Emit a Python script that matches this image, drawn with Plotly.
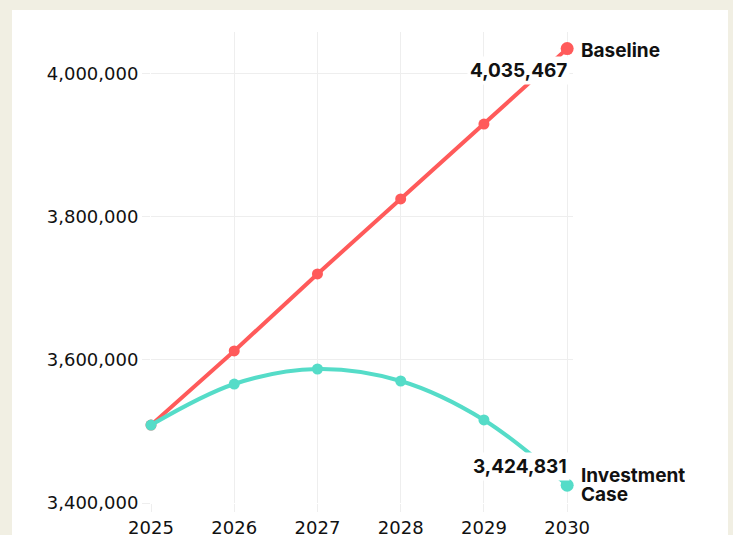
import plotly.graph_objects as go

years = [2025, 2026, 2027, 2028, 2029, 2030]
baseline = [3509000, 3612600, 3720300, 3825200, 3930000, 4035467]
investment = [3509000, 3566400, 3587400, 3570600, 3516100, 3424831]
series_names = ["Baseline", "Investment Case"]
end_labels = ["4,035,467", "3,424,831"]
y_ticks = [3400000, 3600000, 3800000, 4000000]
y_tick_text = ["3,400,000", "3,600,000", "3,800,000", "4,000,000"]

RED = "#ff5a5a"
TEAL = "#55dcc8"
W, H = 733, 535
L, R, T, B = 151, 160, 32, 32

fig = go.Figure()
fig.add_trace(go.Scatter(
    x=years, y=baseline, mode="lines+markers", name=series_names[0],
    line=dict(color=RED, width=4), marker=dict(size=11, color=RED),
    cliponaxis=False, showlegend=False))
fig.add_trace(go.Scatter(
    x=years, y=investment, mode="lines+markers", name=series_names[1],
    line=dict(color=TEAL, width=4, shape="spline", smoothing=1.0),
    marker=dict(size=11, color=TEAL), cliponaxis=False, showlegend=False))
fig.add_trace(go.Scatter(
    x=[years[-1], years[-1]], y=[baseline[-1], investment[-1]], mode="markers",
    marker=dict(size=13, color=[RED, TEAL]), cliponaxis=False, showlegend=False,
    hoverinfo="skip"))

pw = W - L - R
ph = H - T - B
fig.add_shape(type="rect", xref="paper", yref="paper",
              x0=(12 - L) / pw, x1=(728 - L) / pw,
              y0=(H - B - 545) / ph, y1=(H - B - 10) / ph,
              fillcolor="white", line=dict(width=0), layer="below")

# short connector ticks between end markers and series labels
for yv in (baseline[-1], investment[-1]):
    fig.add_shape(type="line", xref="x", yref="y", xsizemode="pixel",
                  xanchor=years[-1], x0=6, x1=11, y0=yv, y1=yv,
                  line=dict(color="#cccccc", width=1))

bold = dict(family="Inter, Roboto, sans-serif", size=19, color="#111111", weight=700)
fig.add_annotation(x=years[-1], y=baseline[-1], text=end_labels[0], showarrow=False,
                   xanchor="right", yanchor="middle", yshift=-22, xshift=3,
                   bgcolor="white", borderpad=2, font=bold)
fig.add_annotation(x=years[-1], y=investment[-1], text=end_labels[1], showarrow=False,
                   xanchor="right", yanchor="middle", yshift=19, xshift=3,
                   bgcolor="white", borderpad=2, font=bold)
fig.add_annotation(x=years[-1], y=baseline[-1], text=series_names[0], showarrow=False,
                   xanchor="left", yanchor="middle", xshift=13, yshift=-2,
                   borderpad=0, font=bold)
inv_lines = series_names[1].split(" ")
for txt, ys in zip(inv_lines, (10, -9)):
    fig.add_annotation(x=years[-1], y=investment[-1], text=txt, showarrow=False,
                       xanchor="left", yanchor="middle", xshift=13, yshift=ys,
                       height=18, borderpad=0, font=bold)

tickfont = dict(family="DejaVu Sans, sans-serif", size=18, color="#111111")
fig.update_layout(
    width=W, height=H, margin=dict(l=L, r=R, t=T, b=B, autoexpand=False),
    paper_bgcolor="#f1efe3", plot_bgcolor="white",
    xaxis=dict(range=[2025, 2030.07], tickvals=years, ticktext=[str(y) for y in years],
               showgrid=True, gridcolor="#eeeeee", gridwidth=1, zeroline=False,
               showline=False, ticks="outside", ticklen=8, tickcolor="#eeeeee",
               tickfont=tickfont, automargin=False),
    yaxis=dict(range=[3400000, 4058700], tickvals=y_ticks, ticktext=y_tick_text,
               showgrid=True, gridcolor="#eeeeee", gridwidth=1, zeroline=False,
               showline=False, ticks="outside", ticklen=8, tickcolor="#eeeeee",
               tickfont=tickfont, automargin=False),
)
fig.write_html("out.html", config={"displayModeBar": False},
               post_script="document.body.style.margin='0';document.body.style.overflow='hidden';document.body.style.background='#f1efe3';")
